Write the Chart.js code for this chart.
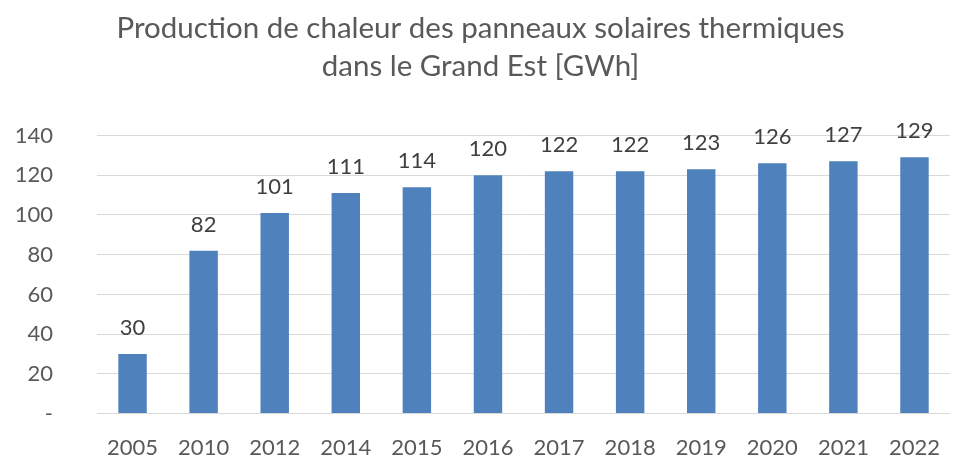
<!DOCTYPE html>
<html>
<head>
<meta charset="utf-8">
<script src="https://cdn.jsdelivr.net/npm/chart.js@4"></script>
<style>
  html, body { margin: 0; padding: 0; background: #fff; overflow: hidden; }
  canvas { display: block; }
</style>
</head>
<body>
<canvas id="barchart" width="961" height="482"></canvas>
<script>
const years = ["2005", "2010", "2012", "2014", "2015", "2016", "2017", "2018", "2019", "2020", "2021", "2022"];
const production = [30, 82, 101, 111, 114, 120, 122, 122, 123, 126, 127, 129];
const titleLines = ["Production de chaleur des panneaux solaires thermiques", "dans le Grand Est [GWh]"];

const fontFamily = "Lato, 'Open Sans', sans-serif";

// draws the value above each bar
const valueLabels = {
  id: "valueLabels",
  afterDatasetsDraw(chart) {
    const ctx = chart.ctx;
    const meta = chart.getDatasetMeta(0);
    ctx.save();
    ctx.font = "22px " + fontFamily;
    ctx.fillStyle = "#404040";
    ctx.textAlign = "center";
    ctx.textBaseline = "alphabetic";
    meta.data.forEach((bar, i) => {
      ctx.fillText(String(production[i]), bar.x, bar.y - 19);
    });
    ctx.restore();
  },
};

const ctx = document.getElementById("barchart").getContext("2d");

new Chart(ctx, {
  type: "bar",
  data: {
    labels: years,
    datasets: [
      {
        data: production,
        backgroundColor: "#4F81BD",
        borderWidth: 0,
        categoryPercentage: 1,
        barPercentage: 0.4,
      },
    ],
  },
  plugins: [valueLabels],
  options: {
    responsive: false,
    animation: false,
    layout: { padding: { top: 10, left: 0, right: 0, bottom: 0 } },
    plugins: {
      legend: { display: false },
      tooltip: { enabled: false },
      title: {
        display: true,
        text: titleLines,
        color: "#595959",
        font: { family: fontFamily, size: 29.5, weight: "normal", lineHeight: 1.28 },
        padding: { top: 0, bottom: 50 },
      },
    },
    scales: {
      x: {
        grid: { display: false, drawTicks: false },
        border: { display: false },
        ticks: {
          color: "#595959",
          font: { family: fontFamily, size: 22 },
          padding: 21,
          maxRotation: 0,
        },
      },
      y: {
        min: 0,
        max: 140,
        grid: { color: "#D9D9D9", lineWidth: 1, drawTicks: false },
        border: { display: false },
        afterFit(scale) {
          scale.width = 97;
        },
        ticks: {
          stepSize: 20,
          color: "#595959",
          font: { family: fontFamily, size: 22 },
          padding: 44,
          callback: (v) => (v === 0 ? "-" : v),
        },
      },
    },
  },
});
</script>
</body>
</html>
